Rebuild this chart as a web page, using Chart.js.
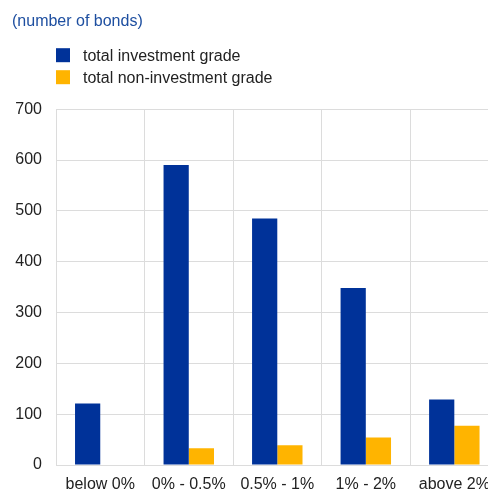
<!DOCTYPE html>
<html>
<head>
<meta charset="utf-8">
<script src="https://cdn.jsdelivr.net/npm/chart.js@4/dist/chart.umd.min.js"></script>
<style>
    html, body { margin: 0; padding: 0; background: #fff; overflow: hidden; }
    .chartPosition { width: 488px; height: 491px; overflow: hidden; }
</style>
</head>
<body>
<div class="chartPosition">
    <canvas id="canvas" width="500" height="491"></canvas>
</div>
<script>
    const categories = ["below 0%", "0% - 0.5%", "0.5% - 1%", "1% - 2%", "above 2%"];
    const investmentGrade = [121, 590, 485, 348, 129];
    const nonInvestmentGrade = [0, 33, 39, 54, 77];
    const yTicks = [0, 100, 200, 300, 400, 500, 600, 700];

    const fontFamily = "Arial, 'Liberation Sans', sans-serif";
    const blue = "#003299";
    const yellow = "#ffb400";

    // legend drawn as two stacked rows above the plot
    const stackedLegend = {
        id: 'stackedLegend',
        afterDraw(chart) {
            const ctx = chart.ctx;
            const top = chart.chartArea.top;
            ctx.save();
            ctx.font = "16px " + fontFamily;
            ctx.textBaseline = "middle";
            chart.data.datasets.forEach(function (ds, i) {
                const y = top - 54 + i * 22;
                ctx.fillStyle = ds.backgroundColor;
                ctx.fillRect(56, y - 7, 14, 14);
                ctx.fillStyle = "#222";
                ctx.fillText(ds.label, 83, y + 1);
            });
            ctx.restore();
        }
    };

    const config = {
        type: 'bar',
        data: {
            labels: categories,
            datasets: [{
                label: "total investment grade",
                data: investmentGrade,
                backgroundColor: blue,
                categoryPercentage: 0.57,
                barPercentage: 1.0
            }, {
                label: "total non-investment grade",
                data: nonInvestmentGrade,
                backgroundColor: yellow,
                categoryPercentage: 0.57,
                barPercentage: 1.0
            }]
        },
        options: {
            responsive: false,
            animation: false,
            layout: { padding: { left: 12, right: 1, top: 0, bottom: 0 } },
            plugins: {
                legend: { display: false },
                tooltip: { enabled: false },
                title: {
                    display: true,
                    text: "(number of bonds)",
                    align: 'start',
                    color: "#1e4fa0",
                    font: { family: fontFamily, size: 16, weight: 'normal' },
                    padding: { top: 12, bottom: 78 }
                }
            },
            scales: {
                x: {
                    afterFit: function (scale) { scale.height = 26; },
                    grid: { color: "#dcdcdc", drawTicks: false, offset: true },
                    border: { color: "#dcdcdc" },
                    ticks: { color: "#222", font: { family: fontFamily, size: 16 }, padding: 10, maxRotation: 0, autoSkip: false }
                },
                y: {
                    min: 0,
                    max: 700,
                    afterBuildTicks: function (scale) {
                        scale.ticks = yTicks.map(function (v) { return { value: v }; });
                    },
                    afterFit: function (scale) { scale.width = 44; },
                    grid: { color: "#dcdcdc", drawTicks: false },
                    border: { color: "#dcdcdc" },
                    ticks: { color: "#222", font: { family: fontFamily, size: 16 }, padding: 14 }
                }
            }
        },
        plugins: [stackedLegend]
    };

    const myChart = new Chart(document.getElementById('canvas').getContext('2d'), config);
</script>
</body>
</html>
